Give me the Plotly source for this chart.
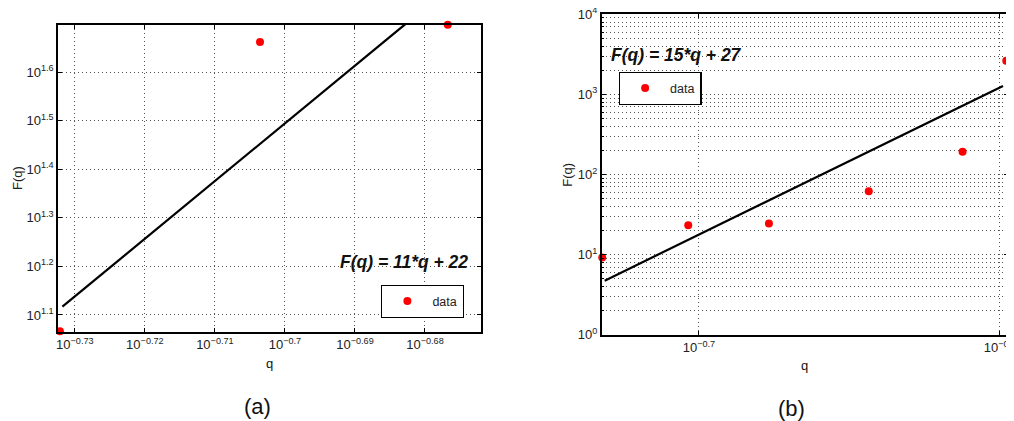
import plotly.graph_objects as go

# ---------------- data ----------------
# panel (a)
a_q = [0.1853, 0.1979, 0.2105]
a_F = [11.65, 45.9, 49.8]
a_fit_q = [0.18545, 0.20763]
a_fit_F = [13.09, 50.1]
a_xtick_exp = [-0.73, -0.72, -0.71, -0.70, -0.69, -0.68]
a_xtick_lbl = ["−0.73", "−0.72", "−0.71", "−0.7", "−0.69", "−0.68"]
a_ytick_exp = [1.1, 1.2, 1.3, 1.4, 1.5, 1.6]
a_ytick_lbl = ["1.1", "1.2", "1.3", "1.4", "1.5", "1.6"]
a_eq = "F(q) = 11*q + 22"

# panel (b)
b_q = [0.1853, 0.1979, 0.2105, 0.2272, 0.2441, 0.2524]
b_F = [9.17, 23.2, 24.4, 61.8, 191.7, 2630]
b_fit_q = [0.18565, 0.25177]
b_fit_F = [4.73, 1270]
b_xtick_exp = [-0.7, -0.6]
b_xtick_lbl = ["−0.7", "−0.6"]
b_ytick_exp = [0, 1, 2, 3, 4]
b_ytick_lbl = ["0", "1", "2", "3", "4"]
b_eq = "F(q) = 15*q + 27"

FONT = "Liberation Sans, Arial, sans-serif"
GRID = "#555555"
DASH = "1px,3px"

# page body has an 8px margin: figure is drawn offset by (8, 8)
OFF = 8
W, H = 1014 - OFF, 421 - OFF

def px(x):
    return (x - OFF) / W

def py(y):
    return 1 - (y - OFF) / H

fig = go.Figure()

# panel (a)
fig.add_trace(go.Scatter(x=a_fit_q, y=a_fit_F, mode="lines",
                         line=dict(color="black", width=2.2),
                         xaxis="x", yaxis="y", showlegend=False))
fig.add_trace(go.Scatter(x=a_q, y=a_F, mode="markers", name="data",
                         marker=dict(color="red", size=8),
                         xaxis="x", yaxis="y", cliponaxis=False,
                         legend="legend"))
# panel (b)
fig.add_trace(go.Scatter(x=b_fit_q, y=b_fit_F, mode="lines",
                         line=dict(color="black", width=2.2),
                         xaxis="x2", yaxis="y2", showlegend=False))
fig.add_trace(go.Scatter(x=b_q, y=b_F, mode="markers", name="data",
                         marker=dict(color="red", size=8),
                         xaxis="x2", yaxis="y2", cliponaxis=False,
                         legend="legend2"))

def tick_text(lbls):
    return ["10<sup>%s</sup>" % s for s in lbls]

common = dict(type="log", showline=True, linecolor="black", linewidth=1.6,
              mirror="ticks", ticks="inside", ticklen=4, tickcolor="black",
              showgrid=True, gridcolor=GRID, griddash=DASH, gridwidth=1,
              zeroline=False, automargin=False, ticklabeloverflow="allow",
              tickfont=dict(family=FONT, size=13, color="#222"))

b_minor_y = [k * 10 ** d for d in range(0, 4) for k in range(2, 10)]

legend_style = dict(xanchor="left", yanchor="top",
                    bgcolor="white", bordercolor="black", borderwidth=1.4,
                    font=dict(family=FONT, size=12.5, color="#222"),
                    itemwidth=40, tracegroupgap=0)

fig.update_layout(
    width=W, height=H,
    margin=dict(l=0, r=0, t=0, b=0, autoexpand=False),
    paper_bgcolor="white", plot_bgcolor="white",
    font=dict(family=FONT, color="#222"),
    xaxis=dict(domain=[px(58), px(481)], range=[-0.7324, -0.6720],
               tickvals=[10 ** e for e in a_xtick_exp],
               ticktext=tick_text(a_xtick_lbl), anchor="y", **common),
    yaxis=dict(domain=[py(331.7), py(24.7)], range=[1.0655, 1.6975],
               tickvals=[10 ** e for e in a_ytick_exp],
               ticktext=tick_text(a_ytick_lbl), anchor="x", **common),
    xaxis2=dict(domain=[px(601.7), min(1.0, px(1007.5))],
                range=[-0.7323, -0.5975],
                tickvals=[10 ** e for e in b_xtick_exp],
                ticktext=tick_text(b_xtick_lbl), anchor="y2", **common),
    yaxis2=dict(domain=[py(334.7), py(14.3)], range=[0, 4],
                tickvals=[10 ** e for e in b_ytick_exp],
                ticktext=tick_text(b_ytick_lbl), anchor="x2",
                minor=dict(tickvals=b_minor_y, showgrid=True, gridcolor=GRID,
                           griddash=DASH, gridwidth=1, ticks="inside",
                           ticklen=2, tickcolor="black"),
                **common),
    legend=dict(x=px(381), y=py(285), **legend_style),
    legend2=dict(x=px(618.7), y=py(72), **legend_style),
)

ann = [
    dict(text="<b><i>%s</i></b>" % a_eq, x=403.5, y=261.7, size=17.5),
    dict(text="<b><i>%s</i></b>" % b_eq, x=676.7, y=55, size=17.5),
    dict(text="(a)", x=257, y=406.7, size=22),
    dict(text="(b)", x=791, y=408.3, size=22),
    dict(text="q", x=269, y=363, size=13),
    dict(text="q", x=804, y=365, size=13),
]
for a in ann:
    fig.add_annotation(text=a["text"], x=px(a["x"]), y=py(a["y"]),
                       xref="paper", yref="paper", showarrow=False,
                       xanchor="center", yanchor="middle",
                       font=dict(family=FONT, size=a["size"], color="#111"))
for (xx, yy) in [(17, 178), (566.7, 175)]:
    fig.add_annotation(text="F(q)", x=px(xx), y=py(yy), xref="paper",
                       yref="paper", showarrow=False, textangle=-90,
                       xanchor="center", yanchor="middle",
                       font=dict(family=FONT, size=13, color="#222"))

fig.write_html("out.html")
